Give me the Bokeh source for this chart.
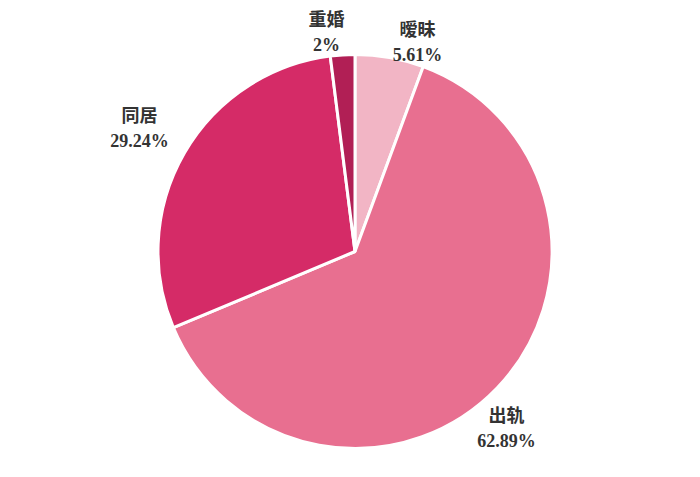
import math
from bokeh.plotting import figure
from bokeh.models import Range1d, ColumnDataSource
from bokeh.core.properties import value
from bokeh.embed import file_html
from bokeh.resources import INLINE

categories = ["暧昧", "出轨", "同居", "重婚"]
percents = [5.61, 62.89, 29.24, 2.0]
pct_labels = ["5.61%", "62.89%", "29.24%", "2%"]
colors = ["#f2b5c5", "#e86f90", "#d52b67", "#b11f55"]

# label anchor positions (image pixel coords, x, y-down)
label_pos = [(417, 27), (506, 413), (139, 113), (326, 17)]

W, H = 684, 461
p = figure(width=W, height=H, output_backend="svg", toolbar_location=None,
           x_range=Range1d(0, W), y_range=Range1d(477 - H, 477),
           min_border=0)
p.axis.visible = False
p.grid.visible = False
p.outline_line_color = None
p.background_fill_color = "white"
p.border_fill_color = "white"

cx, cy = 354.5, 477 - 251
r = 197
total = sum(percents)
starts, ends = [], []
a = math.pi / 2
for v in percents:
    starts.append(a)
    a -= v / total * 2 * math.pi
    ends.append(a)

src = ColumnDataSource(dict(start=starts, end=ends, color=colors))
p.wedge(x=cx, y=cy, radius=r, start_angle="start", end_angle="end",
        direction="clock", fill_color="color", line_color="white", line_width=3,
        source=src)

lx = [q[0] for q in label_pos]
ly_name = [477 - q[1] for q in label_pos]
ly_pct = [477 - q[1] - 27 for q in label_pos]
p.text(x=lx, y=ly_name, text=categories, text_align="center", text_baseline="middle",
       text_font=value("Noto Sans CJK SC"), text_font_style="bold",
       text_font_size="18px", text_color="#333333")
p.text(x=lx, y=ly_pct, text=pct_labels, text_align="center", text_baseline="middle",
       text_font=value("Liberation Serif"), text_font_style="bold",
       text_font_size="18px", text_color="#333333")

open("out.html", "w").write(file_html(p, INLINE))
